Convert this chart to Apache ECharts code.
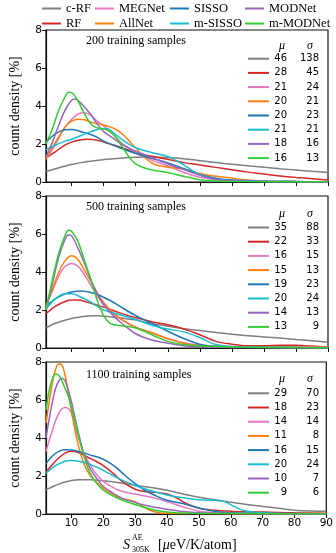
<!DOCTYPE html>
<html>
<head>
<meta charset="utf-8">
<script src="https://cdn.jsdelivr.net/npm/echarts@6/dist/echarts.min.js"></script>
<style>
  html, body { margin: 0; padding: 0; background: #fff; }
  #main { width: 336px; height: 553px; }
</style>
</head>
<body>
<div id="main"></div>
<script>
// model names, in legend / drawing order
var seriesNames = ['c-RF', 'RF', 'MEGNet', 'AllNet', 'SISSO', 'm-SISSO', 'MODNet', 'm-MODNet'];
var seriesColors = ['#7f7f7f', '#d62728', '#e377c2', '#ff7f0e', '#1f77b4', '#17becf', '#9467bd', '#32cd32'];
var panelTitles = ['200 training samples', '500 training samples', '1100 training samples'];
var xTicks = [10, 20, 30, 40, 50, 60, 70, 80, 90];

// mean / std values printed in each panel
var mu200 = [46, 28, 21, 20, 20, 21, 18, 16];
var sigma200 = [138, 45, 24, 21, 23, 21, 16, 13];
var mu500 = [35, 22, 16, 15, 19, 20, 14, 13];
var sigma500 = [88, 33, 15, 13, 23, 24, 13, 9];
var mu1100 = [29, 18, 14, 11, 16, 20, 10, 9];
var sigma1100 = [70, 23, 14, 8, 15, 24, 7, 6];

// density curves, 200 samples
var crf200 = [[2,0.55],[5,0.7],[10,0.92],[15,1.08],[20,1.18],[25,1.25],[30,1.3],[35,1.31],[40,1.29],[45,1.23],[50,1.12],[55,1.02],[60,0.94],[65,0.86],[70,0.78],[75,0.7],[80,0.63],[85,0.56],[90,0.5]];
var rf200 = [[2,1.25],[5,1.6],[8,1.95],[10,2.1],[13,2.22],[15,2.25],[18,2.2],[20,2.1],[25,1.85],[30,1.55],[35,1.35],[40,1.2],[45,1.02],[50,0.9],[55,0.77],[60,0.65],[65,0.52],[70,0.42],[75,0.32],[80,0.24],[85,0.17],[90,0.1]];
var megnet200 = [[2,1.2],[5,2.0],[8,2.9],[10,3.3],[12,3.58],[14,3.65],[16,3.5],[18,3.2],[20,2.95],[23,2.5],[26,2.0],[30,1.55],[35,1.15],[40,0.85],[45,0.5],[50,0.25],[55,0.12],[60,0.07],[70,0.03],[80,0.02],[90,0.01]];
var allnet200 = [[2,1.2],[5,2.1],[8,2.9],[10,3.2],[12,3.3],[14,3.28],[16,3.15],[18,3.08],[20,3.0],[22,2.9],[24,2.75],[26,2.5],[28,2.15],[30,1.8],[33,1.25],[36,0.92],[40,0.78],[45,0.68],[50,0.45],[55,0.3],[60,0.2],[65,0.1],[70,0.04],[80,0.02],[90,0.01]];
var sisso200 = [[2,2.1],[5,2.55],[8,2.75],[10,2.76],[13,2.65],[16,2.5],[18,2.35],[20,2.15],[25,1.8],[30,1.5],[35,1.25],[40,1.0],[45,0.7],[50,0.4],[55,0.2],[60,0.1],[70,0.04],[80,0.02],[90,0.01]];
var msisso200 = [[2,1.7],[5,1.95],[8,2.15],[10,2.25],[13,2.45],[16,2.65],[19,2.8],[21,2.82],[23,2.6],[26,2.2],[30,1.8],[35,1.55],[40,1.35],[45,0.9],[50,0.38],[55,0.15],[60,0.08],[70,0.04],[80,0.02],[90,0.01]];
var modnet200 = [[2,1.3],[4,2.1],[6,3.0],[8,3.8],[10,4.3],[11,4.37],[12,4.3],[14,3.95],[16,3.55],[18,3.05],[20,2.65],[23,2.3],[26,1.95],[30,1.62],[35,1.28],[40,0.95],[45,0.65],[50,0.35],[55,0.15],[60,0.07],[70,0.03],[80,0.02],[90,0.01]];
var mmodnet200 = [[2,2.0],[4,2.8],[6,3.8],[8,4.5],[9,4.72],[10,4.7],[12,4.25],[14,3.6],[16,3.05],[18,2.85],[20,2.8],[22,2.65],[24,2.3],[26,1.8],[28,1.3],[30,0.95],[33,0.72],[36,0.6],[40,0.5],[45,0.3],[50,0.12],[55,0.05],[60,0.02],[90,0.01]];

// density curves, 500 samples
var crf500 = [[2,1.05],[5,1.3],[10,1.55],[15,1.68],[18,1.7],[22,1.65],[26,1.56],[30,1.47],[35,1.28],[40,1.15],[45,1.02],[50,0.92],[55,0.82],[60,0.72],[65,0.64],[70,0.58],[75,0.52],[80,0.45],[85,0.38],[90,0.3]];
var rf500 = [[2,1.8],[5,2.2],[8,2.45],[10,2.52],[12,2.52],[15,2.4],[18,2.25],[20,2.15],[25,1.85],[30,1.6],[35,1.38],[40,1.22],[45,1.0],[50,0.7],[55,0.35],[60,0.2],[65,0.12],[70,0.12],[75,0.15],[80,0.14],[85,0.1],[90,0.05]];
var megnet500 = [[2,2.2],[4,3.0],[6,3.8],[8,4.3],[10,4.45],[12,4.3],[14,3.85],[16,3.3],[18,2.75],[20,2.25],[23,1.8],[26,1.45],[30,1.1],[35,0.8],[40,0.5],[45,0.28],[50,0.15],[55,0.1],[60,0.08],[70,0.06],[80,0.05],[90,0.04]];
var allnet500 = [[2,2.2],[4,3.1],[6,4.0],[8,4.6],[10,4.85],[12,4.65],[14,4.1],[16,3.5],[18,2.9],[20,2.4],[23,1.85],[26,1.45],[30,1.08],[35,0.8],[40,0.48],[45,0.25],[50,0.12],[55,0.08],[60,0.06],[70,0.04],[80,0.03],[90,0.02]];
var sisso500 = [[2,2.2],[5,2.6],[8,2.85],[10,2.95],[13,3.0],[16,2.92],[19,2.75],[22,2.5],[25,2.2],[30,1.7],[35,1.3],[40,0.88],[45,0.5],[50,0.2],[55,0.08],[60,0.05],[70,0.03],[80,0.02],[90,0.01]];
var msisso500 = [[2,2.05],[5,2.6],[8,2.85],[10,2.85],[12,2.75],[15,2.5],[18,2.2],[20,2.0],[25,1.75],[30,1.5],[35,1.2],[40,1.0],[45,0.85],[50,0.55],[55,0.18],[60,0.08],[70,0.04],[80,0.02],[90,0.01]];
var modnet500 = [[2,2.0],[4,3.4],[6,4.8],[8,5.75],[9,5.95],[10,5.9],[12,5.25],[14,4.45],[16,3.6],[18,2.85],[20,2.3],[23,1.7],[26,1.25],[30,0.75],[35,0.42],[40,0.25],[45,0.12],[50,0.06],[60,0.03],[70,0.02],[90,0.01]];
var mmodnet500 = [[2,2.0],[4,3.6],[6,5.0],[8,5.95],[9,6.2],[10,6.15],[12,5.6],[14,4.6],[16,3.6],[18,2.5],[20,1.7],[22,1.3],[25,1.18],[28,1.12],[30,1.05],[33,0.85],[36,0.62],[40,0.35],[45,0.18],[50,0.1],[55,0.08],[60,0.05],[70,0.03],[80,0.02],[90,0.01]];

// density curves, 1100 samples
var crf1100 = [[2,1.28],[5,1.5],[8,1.68],[12,1.8],[16,1.8],[20,1.75],[25,1.65],[30,1.5],[35,1.4],[40,1.25],[45,1.05],[50,0.88],[55,0.75],[60,0.62],[65,0.5],[70,0.4],[75,0.3],[80,0.2],[85,0.16],[90,0.15]];
var rf1100 = [[2,2.2],[4,2.6],[6,2.95],[8,3.2],[10,3.3],[12,3.25],[15,3.0],[18,2.75],[20,2.55],[23,2.15],[26,1.7],[30,1.3],[33,1.18],[36,1.15],[40,1.05],[43,0.85],[46,0.55],[50,0.3],[55,0.2],[60,0.15],[65,0.12],[70,0.1],[75,0.08],[80,0.06],[90,0.04]];
var megnet1100 = [[2,3.3],[4,4.4],[6,5.3],[8,5.6],[9,5.55],[10,5.3],[12,4.1],[14,3.15],[16,2.55],[18,2.05],[20,1.72],[23,1.4],[26,1.18],[30,1.05],[35,0.88],[40,0.65],[45,0.38],[50,0.15],[55,0.07],[60,0.04],[70,0.02],[90,0.01]];
var allnet1100 = [[2,4.8],[3,5.9],[4,6.9],[5,7.6],[6,7.9],[7,7.85],[8,7.3],[9,6.4],[10,5.4],[12,3.7],[14,2.6],[16,2.0],[18,1.65],[20,1.35],[23,1.0],[26,0.8],[29,0.7],[31,0.55],[34,0.25],[37,0.08],[40,0.04],[50,0.02],[90,0.01]];
var sisso1100 = [[2,2.65],[4,3.05],[6,3.3],[8,3.38],[10,3.37],[13,3.25],[16,3.1],[19,2.95],[21,2.8],[24,2.45],[27,2.0],[30,1.6],[33,1.25],[36,1.0],[40,0.72],[45,0.55],[50,0.32],[55,0.15],[60,0.07],[70,0.03],[80,0.02],[90,0.01]];
var msisso1100 = [[2,2.15],[5,2.55],[8,2.78],[10,2.82],[13,2.75],[16,2.6],[20,2.3],[25,1.85],[30,1.5],[35,1.22],[40,1.0],[45,0.85],[50,0.75],[55,0.72],[58,0.65],[61,0.4],[64,0.18],[68,0.08],[75,0.03],[90,0.01]];
var modnet1100 = [[2,4.0],[3,5.0],[4,5.9],[5,6.6],[6,7.0],[7,7.15],[8,7.0],[9,6.5],[10,5.9],[12,4.4],[14,3.1],[16,2.35],[18,1.85],[20,1.45],[23,1.1],[26,0.82],[30,0.6],[35,0.4],[40,0.25],[45,0.13],[50,0.06],[60,0.03],[90,0.01]];
var mmodnet1100 = [[2,5.45],[3,6.5],[4,7.1],[5,7.37],[6,7.3],[7,7.0],[8,6.6],[9,6.2],[10,5.6],[12,4.3],[14,3.0],[16,2.1],[18,1.6],[20,1.25],[23,0.95],[26,0.72],[30,0.5],[35,0.25],[40,0.1],[45,0.05],[50,0.03],[60,0.02],[90,0.01]];

var panels = [
  { title: panelTitles[0], mu: mu200, sigma: sigma200,
    curves: [crf200, rf200, megnet200, allnet200, sisso200, msisso200, modnet200, mmodnet200] },
  { title: panelTitles[1], mu: mu500, sigma: sigma500,
    curves: [crf500, rf500, megnet500, allnet500, sisso500, msisso500, modnet500, mmodnet500] },
  { title: panelTitles[2], mu: mu1100, sigma: sigma1100,
    curves: [crf1100, rf1100, megnet1100, allnet1100, sisso1100, msisso1100, modnet1100, mmodnet1100] }
];

var serif = '"Liberation Serif", "DejaVu Serif", serif';
var sans = '"DejaVu Sans", sans-serif';

// layout
var gridTops = [30, 196, 362];
var gridH = 152;
var titleY = [41, 207, 375];
var headerY = [46, 214, 379];
var firstRowY = [58.7, 227.5, 393.3];
var rowStep = 14.2;

var grids = [], xAxes = [], yAxes = [], series = [], graphics = [];

panels.forEach(function(p, i) {
  var last = i === panels.length - 1;
  grids.push({ left: 34, right: 8, top: gridTops[i], height: gridH,
    show: true, borderColor: '#111', borderWidth: 1.2, backgroundColor: 'transparent' });
  xAxes.push({
    type: 'value', gridIndex: i, min: 2, max: 90,
    axisLine: { lineStyle: { color: '#111', width: 1.2 } },
    axisTick: { show: true, length: 4, customValues: xTicks, lineStyle: { color: '#111' } },
    axisLabel: { show: last, customValues: xTicks, color: '#000', fontSize: 10.5, fontFamily: sans, margin: 4 },
    splitLine: { show: false }
  });
  yAxes.push({
    type: 'value', gridIndex: i, min: 0, max: 8, interval: 2,
    name: 'count density [%]', nameLocation: 'middle', nameGap: 24, nameRotate: 90,
    nameTextStyle: { fontFamily: serif, fontSize: 14, color: '#000' },
    axisLine: { show: true, lineStyle: { color: '#111', width: 1.2 } },
    axisTick: { show: true, length: 4, lineStyle: { color: '#111' } },
    axisLabel: { color: '#000', fontSize: 10.5, fontFamily: sans, margin: 4 },
    splitLine: { show: false }
  });
  p.curves.forEach(function(c, k) {
    series.push({
      name: seriesNames[k], type: 'line', xAxisIndex: i, yAxisIndex: i,
      data: c, showSymbol: false, smooth: 0.35, clip: true,
      color: seriesColors[k],
      lineStyle: { width: 1.5, color: seriesColors[k] },
      emphasis: { disabled: true }
    });
  });

  // panel caption
  graphics.push({ type: 'text', x: 86, y: titleY[i], silent: true,
    style: { text: p.title, fontFamily: serif, fontSize: 12, fill: '#000', verticalAlign: 'middle' } });
  // mu / sigma table
  graphics.push({ type: 'text', x: 282, y: headerY[i], silent: true,
    style: { text: 'μ', fontFamily: serif, fontStyle: 'italic', fontSize: 12, fill: '#000', align: 'center', verticalAlign: 'middle' } });
  graphics.push({ type: 'text', x: 310, y: headerY[i], silent: true,
    style: { text: 'σ', fontFamily: serif, fontStyle: 'italic', fontSize: 12, fill: '#000', align: 'center', verticalAlign: 'middle' } });
  p.mu.forEach(function(m, k) {
    var y = firstRowY[i] + k * rowStep;
    graphics.push({ type: 'line', silent: true, shape: { x1: 248, y1: y, x2: 269, y2: y },
      style: { stroke: seriesColors[k], lineWidth: 2 } });
    graphics.push({ type: 'text', x: 287, y: y, silent: true,
      style: { text: String(m), fontFamily: sans, fontSize: 10, fill: '#000', align: 'right', verticalAlign: 'middle' } });
    graphics.push({ type: 'text', x: 319, y: y, silent: true,
      style: { text: String(p.sigma[k]), fontFamily: sans, fontSize: 10, fill: '#000', align: 'right', verticalAlign: 'middle' } });
  });
});

// x-axis title S^AE_305K [μeV/K/atom]
graphics.push({ type: 'text', x: 123, y: 545, silent: true,
  style: { text: 'S', fontFamily: serif, fontStyle: 'italic', fontSize: 14, fill: '#000', verticalAlign: 'middle' } });
graphics.push({ type: 'text', x: 132, y: 538, silent: true,
  style: { text: 'AE', fontFamily: serif, fontSize: 8, fill: '#000', verticalAlign: 'middle' } });
graphics.push({ type: 'text', x: 132, y: 549.5, silent: true,
  style: { text: '305K', fontFamily: serif, fontSize: 8, fill: '#000', verticalAlign: 'middle' } });
graphics.push({ type: 'text', x: 158, y: 545, silent: true,
  style: { text: '[{i|μ}eV/K/atom]', fontFamily: serif, fontSize: 14, fill: '#000', verticalAlign: 'middle',
    rich: { i: { fontFamily: serif, fontStyle: 'italic', fontSize: 14, fill: '#000' } } } });

// legend: four columns of two entries
var legendCols = [['c-RF', 'RF'], ['MEGNet', 'AllNet'], ['SISSO', 'm-SISSO'], ['MODNet', 'm-MODNet']];
var legendLefts = [37, 90, 165, 240];
var legends = legendCols.map(function(col, j) {
  return {
    data: col, orient: 'vertical', left: legendLefts[j], top: -3,
    icon: 'rect', itemWidth: 19, itemHeight: 2, itemGap: 2, selectedMode: false,
    textStyle: { fontFamily: serif, fontSize: 12.5, color: '#000', lineHeight: 12 }
  };
});

var chart = echarts.init(document.getElementById('main'), null, { renderer: 'canvas' });
chart.setOption({
  animation: false,
  backgroundColor: '#fff',
  legend: legends,
  grid: grids,
  xAxis: xAxes,
  yAxis: yAxes,
  series: series,
  graphic: graphics
});
</script>
</body>
</html>
